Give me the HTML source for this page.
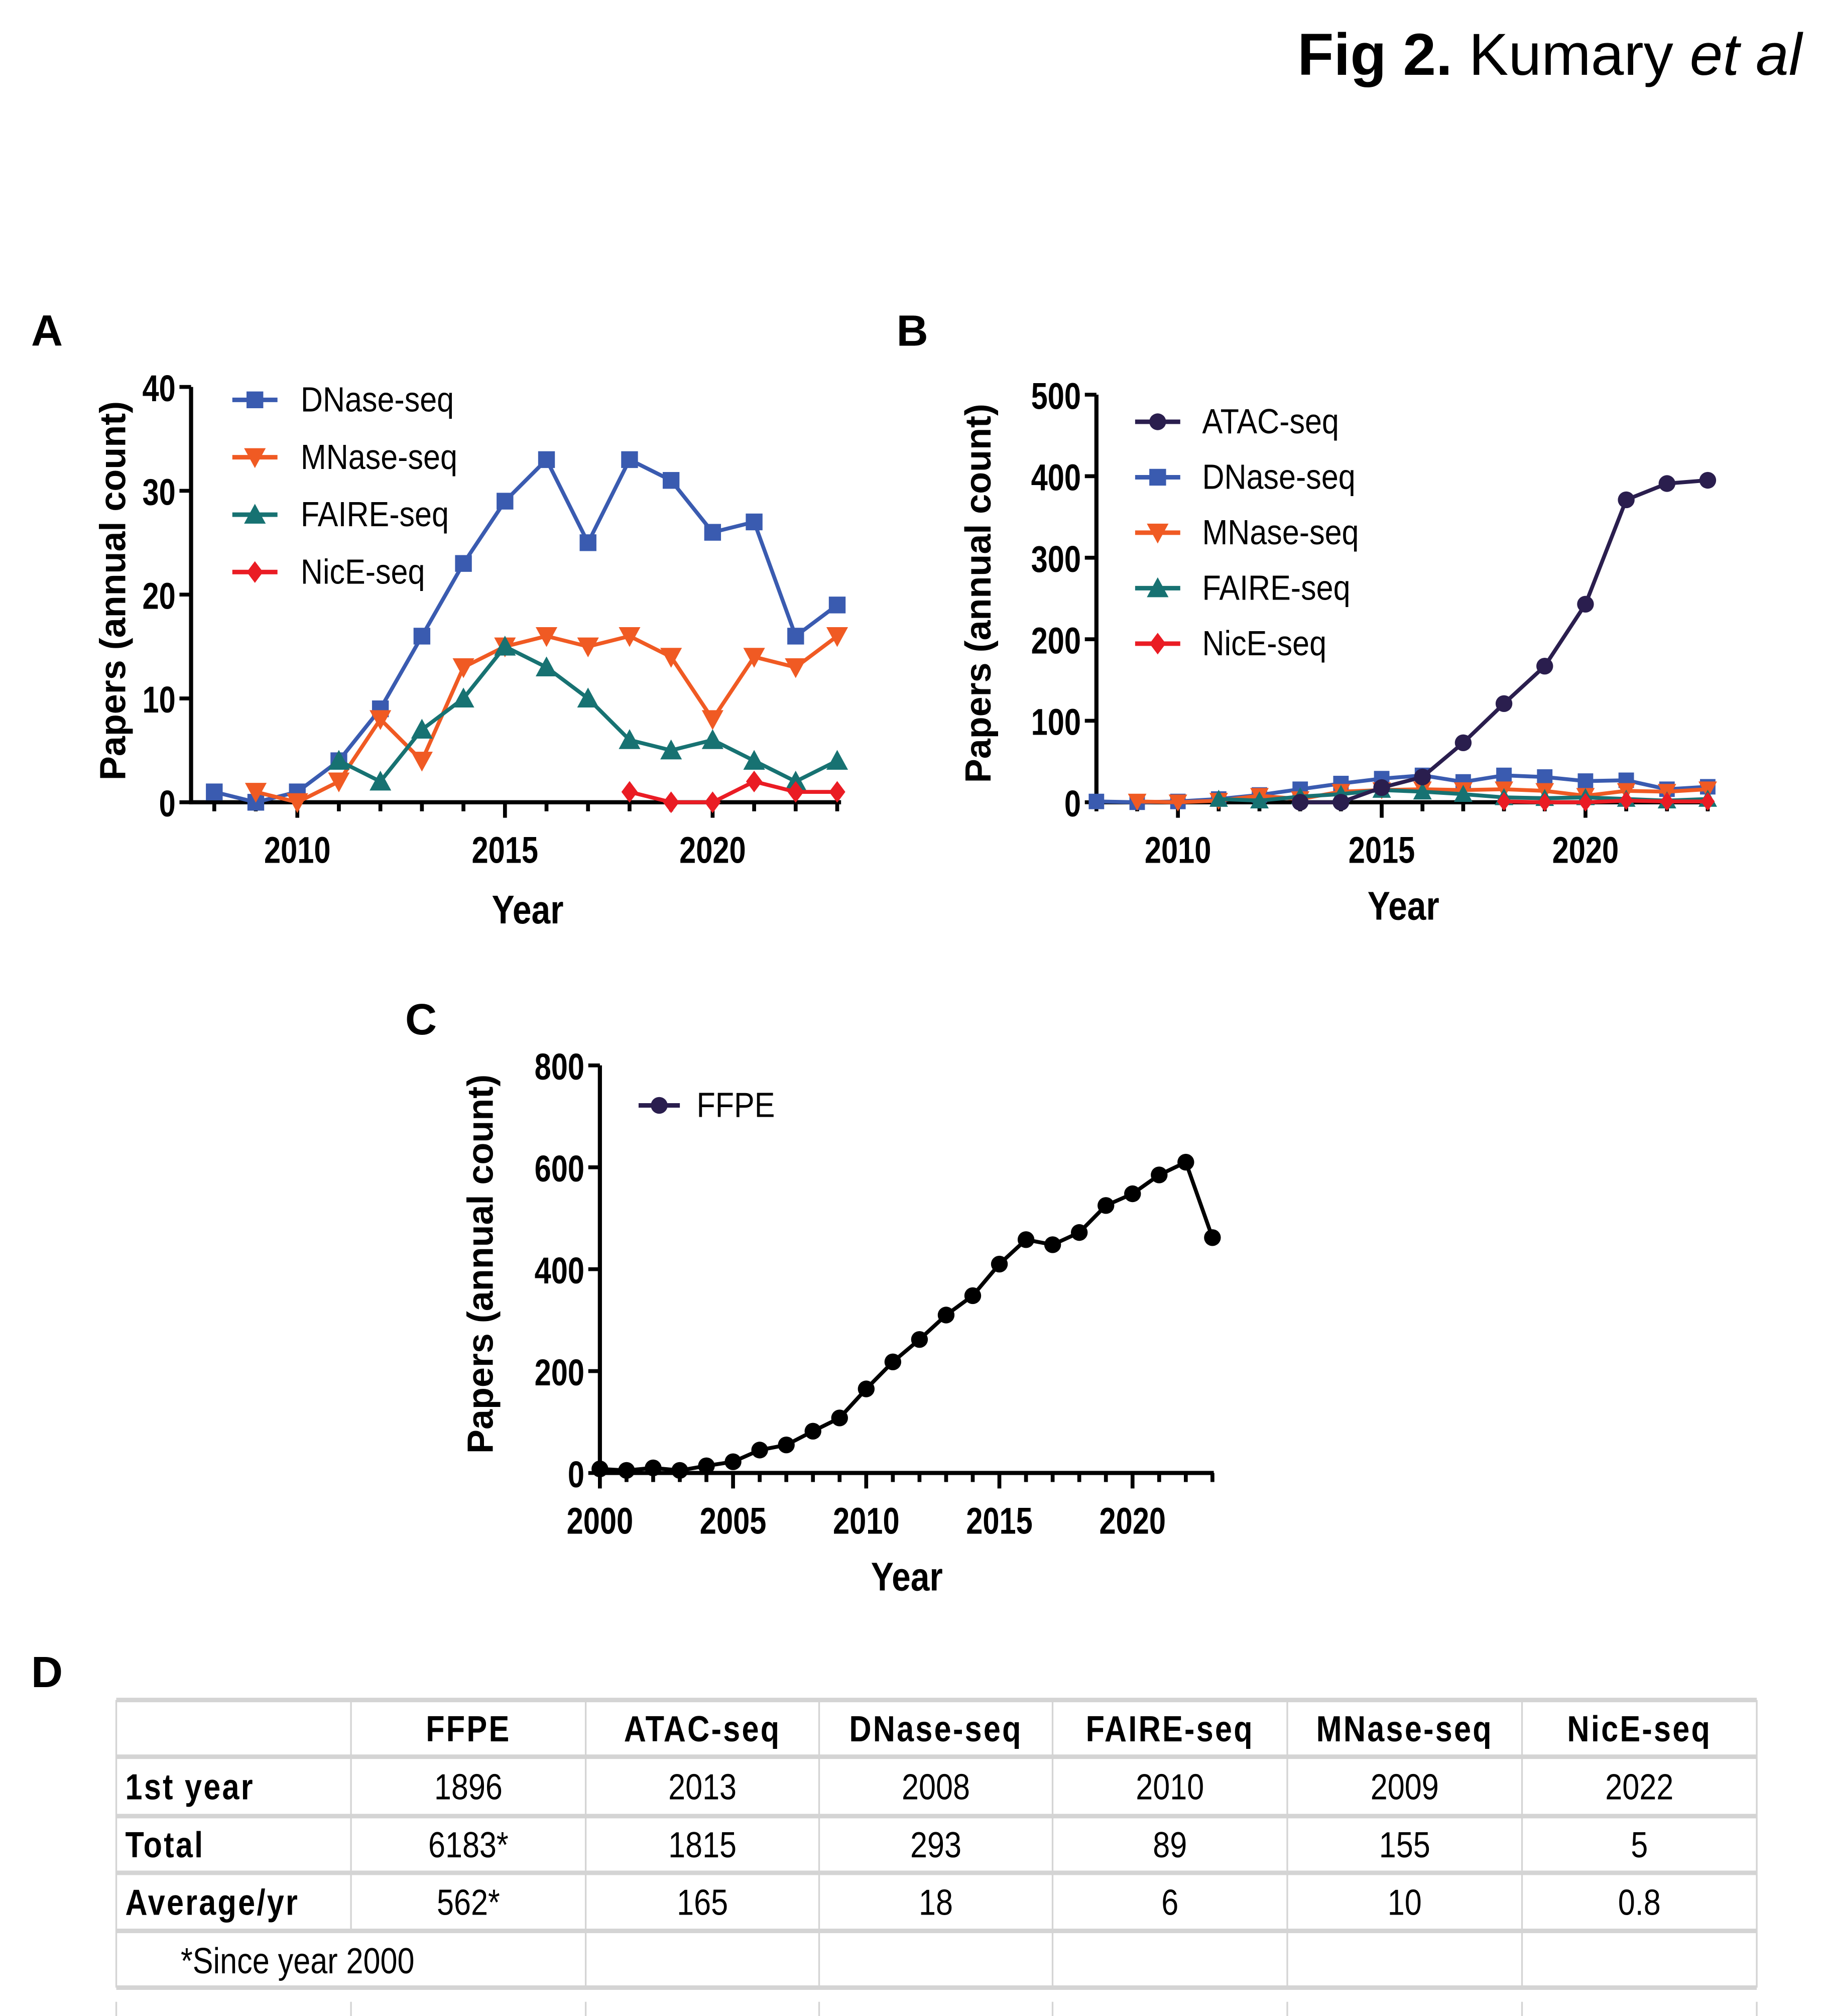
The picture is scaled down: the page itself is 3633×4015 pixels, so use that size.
<!DOCTYPE html>
<html><head><meta charset="utf-8"><style>
html,body{margin:0;padding:0;background:#fff}
svg{display:block}
text{font-family:"Liberation Sans",Arial,sans-serif}
</style></head><body>
<svg id="fig" xmlns="http://www.w3.org/2000/svg" width="3633" height="4015" viewBox="0 0 1414 1563">
<rect width="1414" height="1563" fill="#fff"/>
<text x="1397" y="58" text-anchor="end" font-size="46"><tspan font-weight="bold">Fig 2.</tspan> Kumary <tspan font-style="italic">et al</tspan></text>
<text x="24" y="268" font-size="34" font-weight="bold">A</text>
<text x="695" y="268" font-size="34" font-weight="bold">B</text>
<text x="314" y="802" font-size="34" font-weight="bold">C</text>
<text x="24" y="1308" font-size="34" font-weight="bold">D</text>
<g id="gA"></g>
<g id="gB"></g>
<g id="gC"></g>
<g id="gD"></g>
</svg>
<script>
// ---- data ----
const yearsA = [2008,2009,2010,2011,2012,2013,2014,2015,2016,2017,2018,2019,2020,2021,2022,2023];
const dnaseYears = [2008,2009,2010,2011,2012,2013,2014,2015,2016,2017,2018,2019,2020,2021,2022,2023];
const dnaseVals = [1,0,1,4,9,16,23,29,33,25,33,31,26,27,16,19];
const mnaseYears = [2009,2010,2011,2012,2013,2014,2015,2016,2017,2018,2019,2020,2021,2022,2023];
const mnaseVals = [1,0,2,8,4,13,15,16,15,16,14,8,14,13,16];
const faireYears = [2011,2012,2013,2014,2015,2016,2017,2018,2019,2020,2021,2022,2023];
const faireVals = [4,2,7,10,15,13,10,6,5,6,4,2,4];
const niceYears = [2018,2019,2020,2021,2022,2023];
const niceVals = [1,0,0,2,1,1];
const atacYears = [2008,2009,2010,2011,2012,2013,2014,2015,2016,2017,2018,2019,2020,2021,2022,2023];
const atacVals = [null,null,null,null,null,0,0,18,31,73,121,167,243,371,391,395];
const ffpeYears = [2000,2001,2002,2003,2004,2005,2006,2007,2008,2009,2010,2011,2012,2013,2014,2015,2016,2017,2018,2019,2020,2021,2022,2023];
const ffpeVals = [8,5,10,5,14,22,45,55,82,108,165,218,262,310,348,410,458,448,472,525,548,585,610,462];
const ticksA = [0,10,20,30,40];
const ticksB = [0,100,200,300,400,500];
const ticksC = [0,200,400,600,800];
const tableHeader = ["","FFPE","ATAC-seq","DNase-seq","FAIRE-seq","MNase-seq","NicE-seq"];
const tableRow1 = ["1st year","1896","2013","2008","2010","2009","2022"];
const tableRow2 = ["Total","6183*","1815","293","89","155","5"];
const tableRow3 = ["Average/yr","562*","165","18","6","10","0.8"];

const NS="http://www.w3.org/2000/svg";
function mk(parent,tag,attrs,txt){const e=document.createElementNS(NS,tag);for(const k in attrs)e.setAttribute(k,attrs[k]);if(txt!==undefined)e.textContent=txt;parent.appendChild(e);return e;}
// condensed text
function ctext(parent,x,y,txt,attrs,sx){
  const a=Object.assign({x:0,y:0,transform:`translate(${x},${y}) scale(${sx},1)`},attrs);
  return mk(parent,'text',a,txt);
}
function marker(g,shape,x,y,s,color){
  let e;
  if(shape==='square') e=mk(g,'rect',{x:x-s/2,y:y-s/2,width:s,height:s,fill:color});
  else if(shape==='tdown') e=mk(g,'polygon',{points:`${x-s*0.6},${y-s*0.5} ${x+s*0.6},${y-s*0.5} ${x},${y+s*0.6}`,fill:color});
  else if(shape==='tup') e=mk(g,'polygon',{points:`${x-s*0.6},${y+s*0.5} ${x+s*0.6},${y+s*0.5} ${x},${y-s*0.6}`,fill:color});
  else if(shape==='diamond') e=mk(g,'polygon',{points:`${x},${y-s*0.6} ${x+s*0.45},${y} ${x},${y+s*0.6} ${x-s*0.45},${y}`,fill:color});
  else e=mk(g,'circle',{cx:x,cy:y,r:s/2,fill:color});
  
  
  return e;
}
function series(g,name,xs,ys,X,Y,shape,s,color,lineColor){
  const sg=mk(g,'g',{});
  
  
  let pts=[];xs.forEach((yr,i)=>{if(ys[i]!==null&&ys[i]!==undefined)pts.push([X(yr),Y(ys[i])]);});
  const pl=mk(sg,'polyline',{points:pts.map(p=>p.join(',')).join(' '),fill:'none',stroke:lineColor||color,'stroke-width':3,'stroke-linejoin':'round'});
  
  
  pts.forEach(p=>marker(sg,shape,p[0],p[1],s,color));
}
function axes(g,o){
  const {x0,x1,y0,y1,X,Y,yticks,xmin,xmax,xlabels,ylabelX,ylabelY,xtitleX,xtitleY,tickFont}=o;
  const ax=mk(g,'g',{});
  
  
  mk(ax,'line',{x1:x0,y1:y1,x2:x0,y2:y0+1.5,stroke:'#000','stroke-width':3.2});
  mk(ax,'line',{x1:x0-1.5,y1:y0,x2:x1,y2:y0,stroke:'#000','stroke-width':3.2});
  yticks.forEach(v=>{
    mk(ax,'line',{x1:x0-9,y1:Y(v),x2:x0,y2:Y(v),stroke:'#000','stroke-width':3});
    const t=ctext(ax,x0-12,Y(v)+11,String(v),{'text-anchor':'end','font-size':tickFont,'font-weight':'bold'},0.8);
    
    
  });
  for(let yr=xmin;yr<=xmax;yr++){
    const major=xlabels.includes(yr);
    mk(ax,'line',{x1:X(yr),y1:y0,x2:X(yr),y2:y0+(major?12:7),stroke:'#000','stroke-width':3});
  }
  xlabels.forEach(yr=>{
    const t=ctext(ax,X(yr),y0+47,String(yr),{'text-anchor':'middle','font-size':tickFont,'font-weight':'bold'},0.8);
    
    
  });
  const xt=ctext(ax,xtitleX,xtitleY,'Year',{'text-anchor':'middle','font-size':31,'font-weight':'bold'},0.85);
  
  
  const yt=mk(ax,'text',{x:0,y:0,'text-anchor':'middle','font-size':28,'font-weight':'bold',transform:`translate(${ylabelX},${ylabelY}) rotate(-90)`},'Papers (annual count)');
  
  
}
function legend(g,items,lx,ly,dy,lineW,fs,textX){
  items.forEach((it,i)=>{
    const y=ly+i*dy;
    const lg=mk(g,'g',{});
    
    
    mk(lg,'line',{x1:lx,y1:y,x2:lx+lineW,y2:y,stroke:it.color,'stroke-width':3.5});
    marker(lg,it.shape,lx+lineW/2,y,it.s,it.color);
    ctext(lg,textX,y+9,it.name,{'font-size':fs},0.88);
  });
}
const BLUE='#3a5bb0',ORANGE='#f05a23',TEAL='#177272',RED='#ea1c24',PURPLE='#2a1e4e';

// Panel A
(function(){
  const g=document.getElementById('gA');
  const x0=148,y0=622,yTop=300;
  const X=yr=>166+(yr-2008)*32.2, Y=v=>y0-(v/40)*(y0-yTop);
  axes(g,{x0,x1:652,y0,y1:yTop,X,Y,yticks:ticksA,xmin:2008,xmax:2023,xlabels:[2010,2015,2020],ylabelX:97,ylabelY:458,xtitleX:409,xtitleY:716,tickFont:29});
  series(g,'dnase',dnaseYears,dnaseVals,X,Y,'square',13,BLUE);
  series(g,'mnase',mnaseYears,mnaseVals,X,Y,'tdown',14,ORANGE);
  series(g,'faire',faireYears,faireVals,X,Y,'tup',14,TEAL);
  series(g,'nice',niceYears,niceVals,X,Y,'diamond',14,RED);
  legend(g,[{name:'DNase-seq',shape:'square',s:13,color:BLUE},{name:'MNase-seq',shape:'tdown',s:14,color:ORANGE},{name:'FAIRE-seq',shape:'tup',s:14,color:TEAL},{name:'NicE-seq',shape:'diamond',s:14,color:RED}],180,310,44.5,35,27,233);
})();
// Panel B
(function(){
  const g=document.getElementById('gB');
  const x0=850,y0=622,yTop=306;
  const X=yr=>850+(yr-2008)*31.6, Y=v=>y0-(v/500)*(y0-yTop);
  axes(g,{x0,x1:1328,y0,y1:yTop,X,Y,yticks:ticksB,xmin:2008,xmax:2023,xlabels:[2010,2015,2020],ylabelX:768,ylabelY:460,xtitleX:1088,xtitleY:713,tickFont:29});
  series(g,'dnase',dnaseYears,dnaseVals,X,Y,'square',12,BLUE);
  series(g,'mnase',mnaseYears,mnaseVals,X,Y,'tdown',12,ORANGE);
  series(g,'faire',faireYears,faireVals,X,Y,'tup',12,TEAL);
  series(g,'nice',niceYears,niceVals,X,Y,'diamond',12,RED);
  series(g,'atac',atacYears,atacVals,X,Y,'circle',13,PURPLE);
  legend(g,[{name:'ATAC-seq',shape:'circle',s:13,color:PURPLE},{name:'DNase-seq',shape:'square',s:13,color:BLUE},{name:'MNase-seq',shape:'tdown',s:14,color:ORANGE},{name:'FAIRE-seq',shape:'tup',s:14,color:TEAL},{name:'NicE-seq',shape:'diamond',s:14,color:RED}],880,327,43,35,27,932);
})();
// Panel C
(function(){
  const g=document.getElementById('gC');
  const x0=465,y0=1142,yTop=826;
  const X=yr=>465+(yr-2000)*20.65, Y=v=>y0-(v/800)*(y0-yTop);
  axes(g,{x0,x1:941,y0,y1:yTop,X,Y,yticks:ticksC,xmin:2000,xmax:2023,xlabels:[2000,2005,2010,2015,2020],ylabelX:382,ylabelY:980,xtitleX:703,xtitleY:1233,tickFont:29});
  series(g,'ffpe',ffpeYears,ffpeVals,X,Y,'circle',13,'#000');
  legend(g,[{name:'FFPE',shape:'circle',s:13,color:PURPLE}],495,857,0,32,27,540);
})();
// Panel D table
(function(){
  const g=document.getElementById('gD');
  const cols=[90,272,454,635,816,998,1180,1362];
  const rows=[1318,1362,1408,1452,1497,1541];
  const GR='#d4d4d4';
  rows.forEach(y=>mk(g,'line',{x1:90,y1:y,x2:1362,y2:y,stroke:GR,'stroke-width':3.5}));
  cols.forEach((x,i)=>{
    mk(g,'line',{x1:x,y1:1318,x2:x,y2:(i===1?1497:1541),stroke:GR,'stroke-width':1.3});
    mk(g,'line',{x1:x,y1:1552,x2:x,y2:1563,stroke:GR,'stroke-width':1.3});
  });
  const allRows=[tableHeader,tableRow1,tableRow2,tableRow3];
  allRows.forEach((r,ri)=>{
    const yc=(rows[ri]+rows[ri+1])/2+10;
    r.forEach((txt,ci)=>{
      if(!txt)return;
      const bold=(ri===0||ci===0);
      const anchor=ci===0?'start':'middle';
      const x=ci===0?97:(cols[ci]+cols[ci+1])/2;
      const t=ctext(g,x,yc,txt,{'text-anchor':anchor,'font-size':28,'font-weight':bold?'bold':'normal','letter-spacing':bold?1.5:0},0.85);
      
      
    });
  });
  const f=ctext(g,140,1530,'*Since year 2000',{'font-size':28},0.85);
  
  
})();
</script>
</body></html>
